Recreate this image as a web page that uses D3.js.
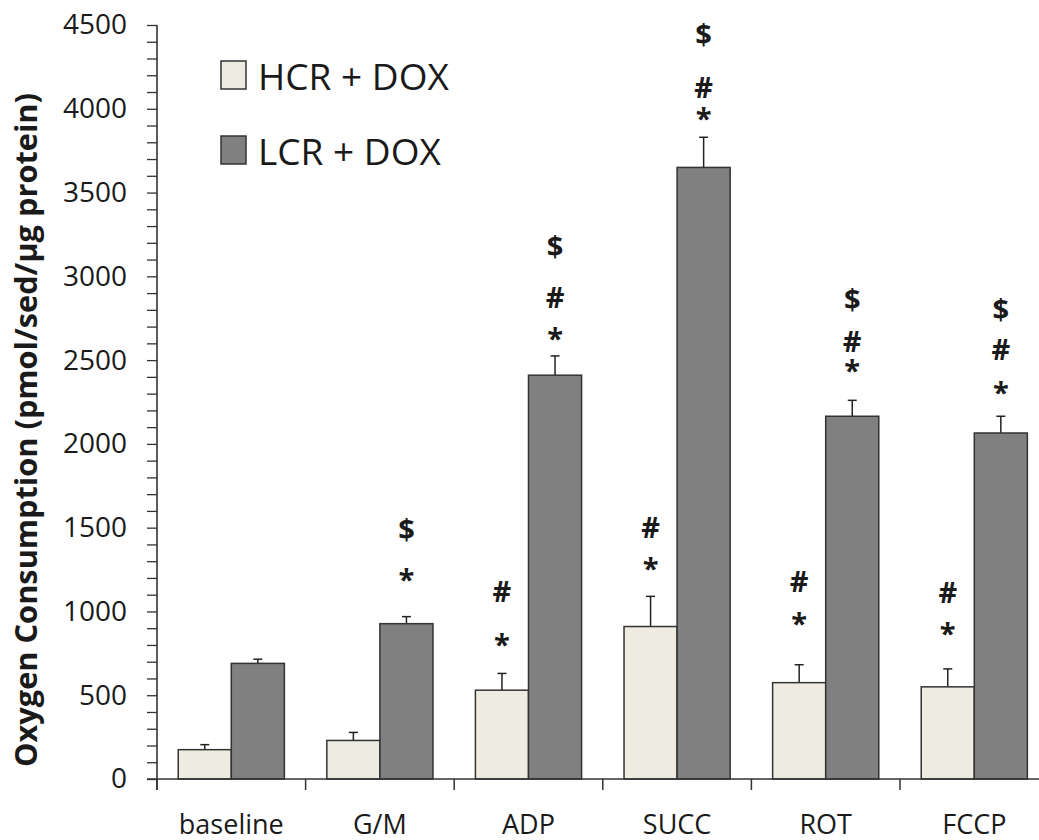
<!DOCTYPE html>
<html>
<head>
<meta charset="utf-8">
<script src="https://cdn.jsdelivr.net/npm/d3@7"></script>
<style>
  html, body { margin: 0; padding: 0; background: #fff; }
  svg { display: block; }
  text { font-family: "Open Sans", "Noto Sans", sans-serif; fill: #1a1a1a; }
</style>
</head>
<body>
<svg id="chart" width="1039" height="840"></svg>
<script>
// Oxygen consumption by substrate step, HCR vs LCR rats after DOX
const categories = ["baseline", "G/M", "ADP", "SUCC", "ROT", "FCCP"];
const seriesNames = ["HCR + DOX", "LCR + DOX"];
const hcrMean = [175, 230, 530, 910, 575, 550];
const hcrErr  = [30, 48, 100, 180, 107, 107];
const lcrMean = [690, 927, 2410, 3650, 2165, 2065];
const lcrErr  = [25, 42, 115, 180, 95, 100];
const yMajorTicks = [0, 500, 1000, 1500, 2000, 2500, 3000, 3500, 4000, 4500];
const yTitle = "Oxygen Consumption (pmol/sed/\u03bcg protein)";

// significance marks: category, series index, symbol, level in axis units
const markCats   = ["G/M", "G/M", "ADP", "ADP", "ADP", "ADP", "ADP", "SUCC", "SUCC", "SUCC", "SUCC", "SUCC",
                    "ROT", "ROT", "ROT", "ROT", "ROT", "FCCP", "FCCP", "FCCP", "FCCP", "FCCP"];
const markSeries = [1, 1, 0, 0, 1, 1, 1, 0, 0, 1, 1, 1, 0, 0, 1, 1, 1, 0, 0, 1, 1, 1];
const markSymbol = ["$", "*", "#", "*", "$", "#", "*", "#", "*", "$", "#", "*",
                    "#", "*", "$", "#", "*", "#", "*", "$", "#", "*"];
const markLevel  = [1486, 1222, 1118, 834, 3175, 2871, 2662, 1498, 1291, 4440, 4124, 3975,
                    1176, 961, 2859, 2608, 2471, 1110, 901, 2799, 2560, 2340];

(function draw() {
  const colors = ["#eeece1", "#808080"];
  const means = [hcrMean, lcrMean];
  const errs = [hcrErr, lcrErr];

  const svg = d3.select("#chart");
  svg.append("rect").attr("width", 1039).attr("height", 840).attr("fill", "#fff");

  const plotLeft = 157, plotTop = 25, plotBottom = 779;
  const y = d3.scaleLinear().domain([0, 4500]).range([plotBottom, plotTop]);
  const x0 = d3.scaleBand().domain(categories).range([plotLeft, plotLeft + 6 * 148.6]).padding(0);
  const x1 = d3.scaleBand().domain([0, 1]).range([0, x0.bandwidth()]).paddingInner(0).paddingOuter(0.4);

  // y axis with minor ticks every 100
  const yAxis = d3.axisLeft(y)
    .tickValues(d3.range(0, 4501, 100))
    .tickSize(10)
    .tickPadding(20)
    .tickFormat(d => yMajorTicks.includes(d) ? d : "");
  const gy = svg.append("g").attr("transform", `translate(${plotLeft},0)`).call(yAxis);
  gy.select(".domain").remove();
  gy.selectAll(".tick line").attr("stroke", "#333").attr("stroke-width", 1.3);
  gy.selectAll(".tick text").style("font-size", "28px").attr("fill", "#1a1a1a");
  svg.append("line").attr("x1", plotLeft).attr("x2", plotLeft).attr("y1", y(4500)).attr("y2", plotBottom + 11)
    .attr("stroke", "#333").attr("stroke-width", 1.6);

  // bars
  const rows = categories.flatMap((c, i) => [0, 1].map(s => ({ c, s, v: means[s][i], e: errs[s][i] })));
  const g = svg.append("g");
  const cx = d => x0(d.c) + x1(d.s) + x1.bandwidth() / 2;
  // error bars (upper only)
  const eb = g.selectAll("g.err").data(rows).join("g").attr("class", "err");
  eb.append("line")
    .attr("x1", cx).attr("x2", cx)
    .attr("y1", d => y(d.v)).attr("y2", d => y(d.v + d.e))
    .attr("stroke", "#222").attr("stroke-width", 1.5);
  eb.append("line")
    .attr("x1", d => cx(d) - 4.5).attr("x2", d => cx(d) + 4.5)
    .attr("y1", d => y(d.v + d.e)).attr("y2", d => y(d.v + d.e))
    .attr("stroke", "#222").attr("stroke-width", 1.5);
  g.selectAll("rect.bar").data(rows).join("rect").attr("class", "bar")
    .attr("x", d => x0(d.c) + x1(d.s))
    .attr("width", x1.bandwidth())
    .attr("y", d => y(d.v))
    .attr("height", d => y(0) - y(d.v))
    .attr("fill", d => colors[d.s])
    .attr("stroke", "#333").attr("stroke-width", 1.5);

  // x axis: line, boundary ticks, category labels
  svg.append("line").attr("x1", plotLeft - 10).attr("x2", 1039).attr("y1", plotBottom).attr("y2", plotBottom)
    .attr("stroke", "#333").attr("stroke-width", 1.6);
  svg.selectAll("line.xb").data(categories).join("line").attr("class", "xb")
    .attr("x1", d => x0(d)).attr("x2", d => x0(d))
    .attr("y1", plotBottom).attr("y2", plotBottom + 11)
    .attr("stroke", "#333").attr("stroke-width", 1.5);
  const gx = svg.append("g").attr("transform", `translate(0,${plotBottom})`)
    .call(d3.axisBottom(x0).tickSize(0).tickPadding(36));
  gx.select(".domain").remove();
  gx.selectAll(".tick text").style("font-size", "27px").attr("fill", "#1a1a1a");

  // significance marks
  const symOffset = { "*": "0.55em", "#": "0.36em", "$": "0.36em" };
  svg.selectAll("text.mark").data(markLevel).join("text").attr("class", "mark")
    .attr("x", (d, i) => x0(markCats[i]) + x1(markSeries[i]) + x1.bandwidth() / 2)
    .attr("y", d => y(d))
    .attr("dy", (d, i) => symOffset[markSymbol[i]])
    .attr("text-anchor", "middle")
    .style("font-size", "29px").style("font-weight", "bold")
    .text((d, i) => markSymbol[i]);

  // legend
  const lg = svg.append("g");
  seriesNames.forEach((name, i) => {
    lg.append("rect").attr("x", 221).attr("y", 61 + i * 75).attr("width", 25).attr("height", 28)
      .attr("fill", colors[i]).attr("stroke", "#333").attr("stroke-width", 1.5);
    lg.append("text").attr("x", 258).attr("y", 90 + i * 75).style("font-size", "37px").text(name);
  });

  // y axis title
  const title = svg.append("text")
    .attr("transform", "translate(37,430) rotate(-90)")
    .attr("text-anchor", "middle")
    .style("font-size", "28px").style("font-weight", "bold")
    .text(yTitle);
  const len = title.node().getComputedTextLength();
  title.style("font-size", (28 * 674 / len) + "px");
})();
</script>
</body>
</html>
